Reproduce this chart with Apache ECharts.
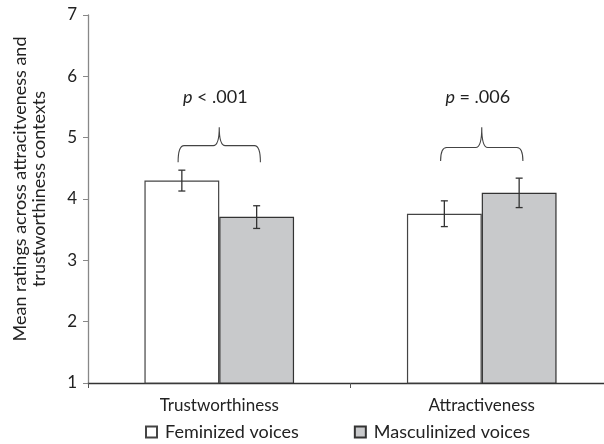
<!DOCTYPE html>
<html><head><meta charset="utf-8">
<script src="https://cdn.jsdelivr.net/npm/echarts@6/dist/echarts.min.js"></script>
<style>html,body{margin:0;padding:0;background:#fff}#c{width:604px;height:444px}</style>
</head><body><div id="c"></div>
<script>
const categories = ['Trustworthiness', 'Attractiveness'];
const seriesNames = ['Feminized voices', 'Masculinized voices'];
const feminized = [4.30, 3.76];
const masculinized = [3.71, 4.10];
const feminizedLow = [4.13, 3.55];
const feminizedHigh = [4.47, 3.97];
const masculinizedLow = [3.52, 3.86];
const masculinizedHigh = [3.89, 4.34];
const pLabels = ['.001', '.006'];
const pOps = ['<', '='];
const braceEnd = [4.60, 4.62];
const braceMid = [4.87, 4.84];
const bracePeak = [5.17, 5.17];
const pLabelY = [5.66, 5.66];

const FONT = 'Lato';
const catGapPct = 43;

function errRender(sIdx) {
  return function (params, api) {
    const i = api.value(0);
    const lo = api.coord([i, api.value(1)]);
    const hi = api.coord([i, api.value(2)]);
    const band = api.size([1, 0])[0];
    const bw = band * (1 - catGapPct / 100) / 2;
    const x = lo[0] + (sIdx === 0 ? -bw / 2 : bw / 2);
    const c = 3.5;
    const st = { stroke: '#333', lineWidth: 1.3 };
    return { type: 'group', children: [
      { type: 'line', shape: { x1: x, y1: lo[1], x2: x, y2: hi[1] }, style: st },
      { type: 'line', shape: { x1: x - c, y1: lo[1], x2: x + c, y2: lo[1] }, style: st },
      { type: 'line', shape: { x1: x - c, y1: hi[1], x2: x + c, y2: hi[1] }, style: st }
    ]};
  };
}

function braceRender(params, api) {
  const i = api.value(0);
  const yE = api.coord([i, api.value(1)])[1];
  const yM = api.coord([i, api.value(2)])[1];
  const yP = api.coord([i, api.value(3)])[1];
  const yT = api.coord([i, api.value(4)])[1];
  const xc = api.coord([i, api.value(1)])[0];
  const band = api.size([1, 0])[0];
  const bw = band * (1 - catGapPct / 100) / 2;
  const x1 = xc - bw * 0.55, x2 = xc + bw * 0.55;
  const r = 6;
  const d = 'M' + x1 + ' ' + yE + ' Q' + x1 + ' ' + yM + ' ' + (x1 + r) + ' ' + yM +
    ' L' + (xc - r) + ' ' + yM + ' Q' + xc + ' ' + yM + ' ' + xc + ' ' + yP +
    ' Q' + xc + ' ' + yM + ' ' + (xc + r) + ' ' + yM +
    ' L' + (x2 - r) + ' ' + yM + ' Q' + x2 + ' ' + yM + ' ' + x2 + ' ' + yE;
  return { type: 'group', children: [
    { type: 'path', shape: { pathData: d }, style: { fill: null, stroke: '#444', lineWidth: 1.1 } },
    { type: 'text', x: xc - 4, y: yT, style: {
      text: '{i|p} ' + pOps[i] + ' ' + pLabels[i],
      align: 'center', verticalAlign: 'middle', fill: '#222',
      font: '18px "' + FONT + '"',
      rich: { i: { fontStyle: 'italic', fontSize: 18, fontFamily: FONT, fill: '#222' } }
    } }
  ]};
}

const chart = echarts.init(document.getElementById('c'));
chart.setOption({
  animation: false,
  textStyle: { fontFamily: FONT },
  grid: { left: 88, right: -9, top: 15, bottom: 61, outerBoundsMode: 'none', containLabel: false },
  legend: {
    bottom: -2, left: 140, itemGap: 55, itemWidth: 11, itemHeight: 11, icon: 'rect',
    textStyle: { fontSize: 18, color: '#222', fontFamily: FONT, padding: [0, 0, 0, 3] },
    data: seriesNames
  },
  xAxis: {
    type: 'category', data: categories,
    axisLine: { lineStyle: { color: '#333', width: 1.3 } },
    axisTick: { show: true, length: 5, lineStyle: { color: '#555' } },
    axisLabel: { color: '#222', fontSize: 17, margin: 14, fontFamily: FONT }
  },
  yAxis: {
    type: 'value', min: 1, max: 7, interval: 1,
    name: 'Mean ratings across attracitveness and\ntrustworthiness contexts',
    nameLocation: 'middle', nameRotate: 90, nameGap: 39,
    nameTextStyle: { fontSize: 18, color: '#222', lineHeight: 19, fontFamily: FONT, padding: [0, 0, 0, 20] },
    splitLine: { show: false },
    axisLine: { show: true, lineStyle: { color: '#888', width: 1.3 } },
    axisTick: { show: true, length: 5, lineStyle: { color: '#888' } },
    axisLabel: { color: '#222', fontSize: 17, margin: 11, fontFamily: FONT }
  },
  series: [
    { name: seriesNames[0], type: 'bar', data: feminized, barGap: '0%', barCategoryGap: catGapPct + '%',
      itemStyle: { color: '#ffffff', borderColor: '#444', borderWidth: 1.2 } },
    { name: seriesNames[1], type: 'bar', data: masculinized, barGap: '0%', barCategoryGap: catGapPct + '%',
      itemStyle: { color: '#c8c9cb', borderColor: '#333', borderWidth: 1.2 } },
    { type: 'custom', renderItem: errRender(0), z: 10,
      data: categories.map((c, i) => [i, feminizedLow[i], feminizedHigh[i]]) },
    { type: 'custom', renderItem: errRender(1), z: 10,
      data: categories.map((c, i) => [i, masculinizedLow[i], masculinizedHigh[i]]) },
    { type: 'custom', renderItem: braceRender, z: 10,
      data: categories.map((c, i) => [i, braceEnd[i], braceMid[i], bracePeak[i], pLabelY[i]]) }
  ]
});
</script></body></html>
